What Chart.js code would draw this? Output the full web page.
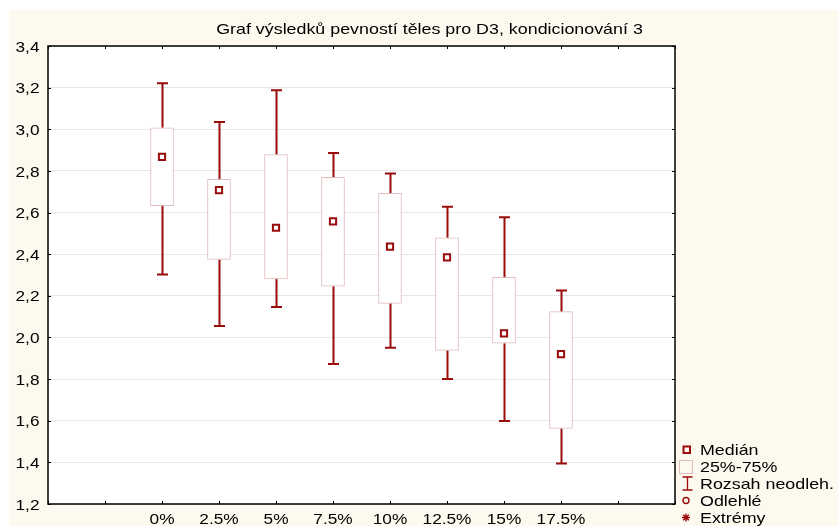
<!DOCTYPE html>
<html>
<head>
<meta charset="utf-8">
<script src="https://cdn.jsdelivr.net/npm/chart.js@4/dist/chart.umd.min.js"></script>
<style>
  html, body { margin: 0; padding: 0; background: #ffffff; overflow: hidden; }
  #wrap { width: 838px; height: 526px; position: relative; }
  canvas { display: block; }
</style>
</head>
<body>
<div id="wrap"><canvas id="c" width="838" height="526"></canvas></div>
<script>
// ---- data ----
const categories = ['0%', '2.5%', '5%', '7.5%', '10%', '12.5%', '15%', '17.5%'];
const medians  = [2.867, 2.708, 2.527, 2.558, 2.436, 2.385, 2.020, 1.920];
const q1Values = [2.633, 2.375, 2.281, 2.246, 2.164, 1.938, 1.972, 1.563];
const q3Values = [3.007, 2.760, 2.878, 2.769, 2.692, 2.479, 2.289, 2.124];
const minValues = [2.303, 2.055, 2.146, 1.872, 1.951, 1.800, 1.599, 1.395];
const maxValues = [3.221, 3.035, 3.187, 2.886, 2.787, 2.628, 2.578, 2.226];
const emptyBefore = 2, emptyAfter = 2;   // blank slots on the category axis
const yTicks = { min: 1.2, max: 3.4, step: 0.2 };
const titleText = 'Graf výsledků pevností těles pro D3, kondicionování 3';
const legendItems = ['Medián', '25%-75%', 'Rozsah neodleh.', 'Odlehlé', 'Extrémy'];

// ---- build aligned arrays for the library ----
const pad = (arr) => Array(emptyBefore).fill(null).concat(arr, Array(emptyAfter).fill(null));
const labels = Array(emptyBefore).fill('').concat(categories, Array(emptyAfter).fill(''));
const boxData = pad(categories.map((_, i) => [q1Values[i], q3Values[i]]));
const medianData = pad(medians);

const FONT = "'Liberation Sans', Arial, sans-serif";
const DARK = '#9a0b0b';
const PINK = '#e2bcbd';
const CREAM = '#fdf9ef';

// text drawn horizontally widened, as in the reference rendering
function wideText(ctx, text, x, y, align, sx) {
  ctx.save();
  ctx.translate(x, y);
  ctx.scale(sx, 1);
  ctx.textAlign = align;
  ctx.textBaseline = 'alphabetic';
  ctx.fillText(text, 0, 0);
  ctx.restore();
}

const bgPlugin = {
  id: 'bg',
  beforeDraw(chart) {
    const { ctx, chartArea: a } = chart;
    ctx.save();
    ctx.fillStyle = '#ffffff';
    ctx.fillRect(0, 0, chart.width, chart.height);
    ctx.fillStyle = CREAM;
    ctx.fillRect(9, 10, chart.width - 9, chart.height - 10);
    ctx.fillStyle = '#ffffff';
    ctx.fillRect(a.left, a.top, a.right - a.left, a.bottom - a.top);
    ctx.restore();
  }
};

const whiskerPlugin = {
  id: 'whiskers',
  beforeDatasetsDraw(chart) {
    const { ctx, scales: { x, y } } = chart;
    ctx.save();
    ctx.strokeStyle = DARK;
    ctx.lineWidth = 2;
    categories.forEach((c, i) => {
      const px = Math.round(x.getPixelForValue(i + emptyBefore)) + 0.5;
      const yMin = y.getPixelForValue(minValues[i]);
      const yMax = y.getPixelForValue(maxValues[i]);
      const yQ1 = y.getPixelForValue(q1Values[i]);
      const yQ3 = y.getPixelForValue(q3Values[i]);
      ctx.beginPath();
      ctx.moveTo(px, yMax); ctx.lineTo(px, yQ3);
      ctx.moveTo(px, yQ1); ctx.lineTo(px, yMin);
      ctx.moveTo(px - 5.5, yMax); ctx.lineTo(px + 5.5, yMax);
      ctx.moveTo(px - 5.5, yMin); ctx.lineTo(px + 5.5, yMin);
      ctx.stroke();
    });
    ctx.restore();
  }
};

const framePlugin = {
  id: 'frame',
  afterDraw(chart) {
    const { ctx, chartArea: a, scales: { x, y } } = chart;
    ctx.save();
    ctx.strokeStyle = '#000000';
    ctx.lineWidth = 1.5;
    ctx.strokeRect(a.left, a.top, a.right - a.left, a.bottom - a.top);
    ctx.lineWidth = 1;
    ctx.beginPath();
    for (let i = 0; i < labels.length; i++) {
      const px = Math.round(x.getPixelForValue(i)) + 0.5;
      ctx.moveTo(px, a.top); ctx.lineTo(px, a.top + 3);
      ctx.moveTo(px, a.bottom); ctx.lineTo(px, a.bottom - 3);
    }
    y.ticks.forEach((t) => {
      const py = Math.round(y.getPixelForValue(t.value)) + 0.5;
      ctx.moveTo(a.right, py); ctx.lineTo(a.right - 3, py);
      ctx.moveTo(a.left, py); ctx.lineTo(a.left + 3, py);
    });
    ctx.stroke();

    ctx.fillStyle = '#000000';
    ctx.font = '15px ' + FONT;

    // axis tick labels at the library's tick positions
    y.ticks.forEach((t) => {
      const py = y.getPixelForValue(t.value);
      wideText(ctx, t.value.toFixed(1).replace('.', ','), 39.5, py + 5.6, 'right', 1.15);
    });
    labels.forEach((lab, i) => {
      if (!lab) return;
      wideText(ctx, lab, x.getPixelForValue(i), 524, 'center', 1.15);
    });

    // title
    wideText(ctx, titleText, 429.5, 34, 'center', 1.19);

    // legend
    const tx = 700;
    const base = [455, 471.7, 489, 506, 522.7];
    legendItems.forEach((t, i) => wideText(ctx, t, tx, base[i], 'left', 1.19));
    // median symbol
    ctx.strokeStyle = DARK; ctx.lineWidth = 2;
    ctx.strokeRect(683.5, 446.5, 6.5, 6.5);
    // box symbol
    ctx.strokeStyle = PINK; ctx.lineWidth = 1;
    ctx.strokeRect(679.5, 460.5, 13, 13);
    // range symbol
    ctx.strokeStyle = DARK; ctx.lineWidth = 1.3;
    ctx.beginPath();
    ctx.moveTo(687.5, 477); ctx.lineTo(687.5, 490);
    ctx.moveTo(682.5, 477); ctx.lineTo(692.5, 477);
    ctx.moveTo(682.5, 490); ctx.lineTo(692.5, 490);
    ctx.stroke();
    // outlier symbol
    ctx.lineWidth = 1.4;
    ctx.beginPath();
    ctx.arc(686, 500.5, 3, 0, Math.PI * 2);
    ctx.stroke();
    // extreme symbol
    ctx.lineWidth = 1.4;
    ctx.beginPath();
    for (let k = 0; k < 4; k++) {
      const ang = k * Math.PI / 4;
      ctx.moveTo(686 - 4 * Math.cos(ang), 517.5 - 4 * Math.sin(ang));
      ctx.lineTo(686 + 4 * Math.cos(ang), 517.5 + 4 * Math.sin(ang));
    }
    ctx.stroke();
    ctx.restore();
  }
};

new Chart(document.getElementById('c'), {
  type: 'bar',
  data: {
    labels: labels,
    datasets: [
      {
        label: 'Medián',
        type: 'line',
        data: medianData,
        showLine: false,
        pointStyle: 'rect',
        pointRadius: 4.4,
        pointHoverRadius: 4.4,
        pointBackgroundColor: '#ffffff',
        pointBorderColor: DARK,
        pointBorderWidth: 2,
        order: 0
      },
      {
        label: '25%-75%',
        data: boxData,
        backgroundColor: '#ffffff',
        borderColor: PINK,
        borderWidth: 1,
        borderSkipped: false,
        barThickness: 23,
        grouped: false,
        order: 1
      }
    ]
  },
  options: {
    responsive: false,
    animation: false,
    layout: { padding: { left: 0, top: 46, right: 163, bottom: 0 } },
    plugins: {
      legend: { display: false },
      title: { display: false },
      tooltip: { enabled: false }
    },
    scales: {
      x: {
        offset: false,
        grid: { display: false, drawTicks: false },
        border: { display: false },
        ticks: { display: false, autoSkip: false },
        afterFit(s) { s.height = 22; }
      },
      y: {
        min: yTicks.min,
        max: yTicks.max,
        grid: { color: '#e6e6e6', lineWidth: 1, drawTicks: false },
        border: { display: false },
        ticks: {
          display: false,
          stepSize: yTicks.step,
          callback: (v) => v.toFixed(1).replace('.', ',')
        },
        afterFit(s) { s.width = 48; }
      }
    }
  },
  plugins: [bgPlugin, whiskerPlugin, framePlugin]
});
</script>
</body>
</html>
